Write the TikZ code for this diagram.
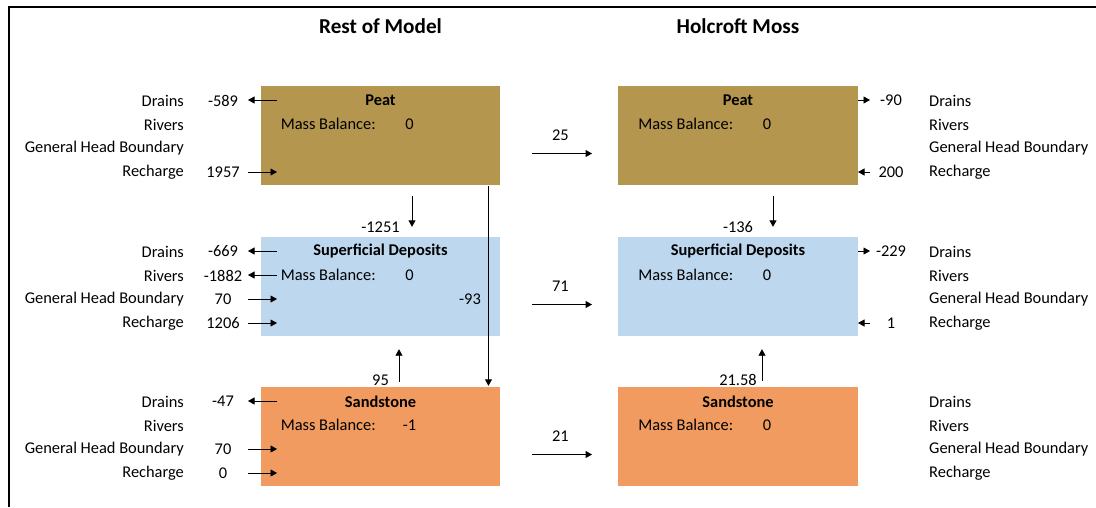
\documentclass[tikz,border=0pt]{standalone}
\usepackage{fontspec}
\setmainfont{Carlito}
\usetikzlibrary{arrows.meta,calc}
\definecolor{PeatGold}{HTML}{B4964F}
\definecolor{DepositBlue}{HTML}{BDD7EE}
\definecolor{SandOrange}{HTML}{F19B60}
\definecolor{Ink}{HTML}{000000}
\newcommand{\cellsize}{\fontsize{16.4}{20}\selectfont}
\newcommand{\stratum}[6]{%
  \node[layer, fill=#4] (#1) at (#2,#3) {};
  \node[cell, font=\cellsize\bfseries] (#1-name) at ($(#1.north)+(0,14.5)$) {#5};
  \node[cell, anchor=west] (#1-mb) at ($(#1.north west)+(20,38.5)$) {Mass Balance:};
  \node[cell] (#1-bal) at ($(#1.north west)+(149,38.5)$) {#6};%
}

\begin{document}
\begin{tikzpicture}[
    x=1pt, y=-1pt,
    >={Triangle[length=6.5pt,width=7pt]},
    layer/.style={minimum width=239.5pt, minimum height=99pt, inner sep=0pt},
    cell/.style={font=\cellsize, inner sep=0pt, text=Ink},
    head/.style={cell, font=\fontsize{21.2}{25}\selectfont\bfseries},
    flow/.style={line width=0.9pt, draw=Ink},
    outward/.style={<-},
    inward/.style={->}
  ]
  \useasboundingbox[fill=white] (0,0) rectangle (1096,507);
  \draw[line width=2pt] (9,507) -- (9,7) -- (1096,7);

  % column titles
  \node[head] (restTitle) at (380.5,26) {Rest of Model};
  \node[head] (mossTitle) at (738,26) {Holcroft Moss};

  % layers
  \stratum{peatL}{380.5}{135.5}{PeatGold}{Peat}{0}
  \stratum{supL}{380.5}{286.5}{DepositBlue}{Superficial Deposits}{0}
  \stratum{sandL}{380.5}{436.5}{SandOrange}{Sandstone}{-1}
  \stratum{peatR}{738}{135.5}{PeatGold}{Peat}{0}
  \stratum{supR}{738}{286.5}{DepositBlue}{Superficial Deposits}{0}
  \stratum{sandR}{738}{436.5}{SandOrange}{Sandstone}{0}

  % boundary names either side
  \foreach \s/\t in {pe/86, su/237, sa/387}
    \foreach \w [count=\i from 0] in {Drains,Rivers,General Head Boundary,Recharge} {
      \node[cell, anchor=east] (\s-L\i) at (184,\t+14.5+24*\i) {\w};
      \node[cell, anchor=west] (\s-R\i) at (929,\t+14.5+24*\i) {\w};
    }

  % boundary flows, rest of model
  \foreach \n/\y/\v/\d in {pd/100/-589/outward, pc/172/1957/inward,
      sd/251/-669/outward, sr/275/-1882/outward, sg/299/70/inward, sc/323/1206/inward,
      ad/401/-47/outward, ag/449/70/inward, ac/473/0/inward} {
    \node[cell] (L-\n) at (223,\y+0.5) {\v};
    \coordinate (L-\n-o) at (248,\y);
    \coordinate (L-\n-i) at (277,\y);
    \draw[flow,\d] (L-\n-o) -- (L-\n-i);
  }

  % boundary flows, holcroft moss
  \foreach \n/\y/\v/\d in {pd/100/-90/outward, pc/172/200/inward,
      sd/251/-229/outward, sc/323/1/inward} {
    \node[cell] (R-\n) at (891,\y+0.5) {\v};
    \coordinate (R-\n-o) at (870,\y);
    \coordinate (R-\n-i) at (858,\y);
    \draw[flow,\d] (R-\n-o) -- (R-\n-i);
  }

  % vertical exchange
  \draw[flow,->] ($(peatL.south)+(31.5,11)$) -- ($(supL.north)+(31.5,-10)$);
  \node[cell] (dropL) at ($(supL.north)+(0,-10)$) {-1251};
  \draw[flow,->] ($(sandL.north)+(18.5,-5)$) -- ($(supL.south)+(18.5,13)$);
  \node[cell] (riseL) at ($(sandL.north)+(0,-7)$) {95};
  \draw[flow,->] ($(peatL.south east)+(-12,1)$) -- ($(sandL.north east)+(-12,-1)$);
  \node[cell] (bypassL) at (470,299.5) {-93};

  \draw[flow,->] ($(peatR.south)+(35,11)$) -- ($(supR.north)+(35,-10)$);
  \node[cell] (dropR) at ($(supR.north)+(0,-10)$) {-136};
  \draw[flow,->] ($(sandR.north)+(24,-6)$) -- ($(supR.south)+(24,13)$);
  \node[cell] (riseR) at ($(sandR.north)+(0,-7)$) {21.58};

  % lateral flow into the moss
  \foreach \l/\v in {peat/25, sup/71, sand/21} {
    \draw[flow,->] ($(\l L.east)+(32,18)$) -- ($(\l R.west)+(-26,18)$);
    \node[cell] (\l-lat) at ($(\l L.east)+(60,0)$) {\v};
  }
\end{tikzpicture}
\end{document}
